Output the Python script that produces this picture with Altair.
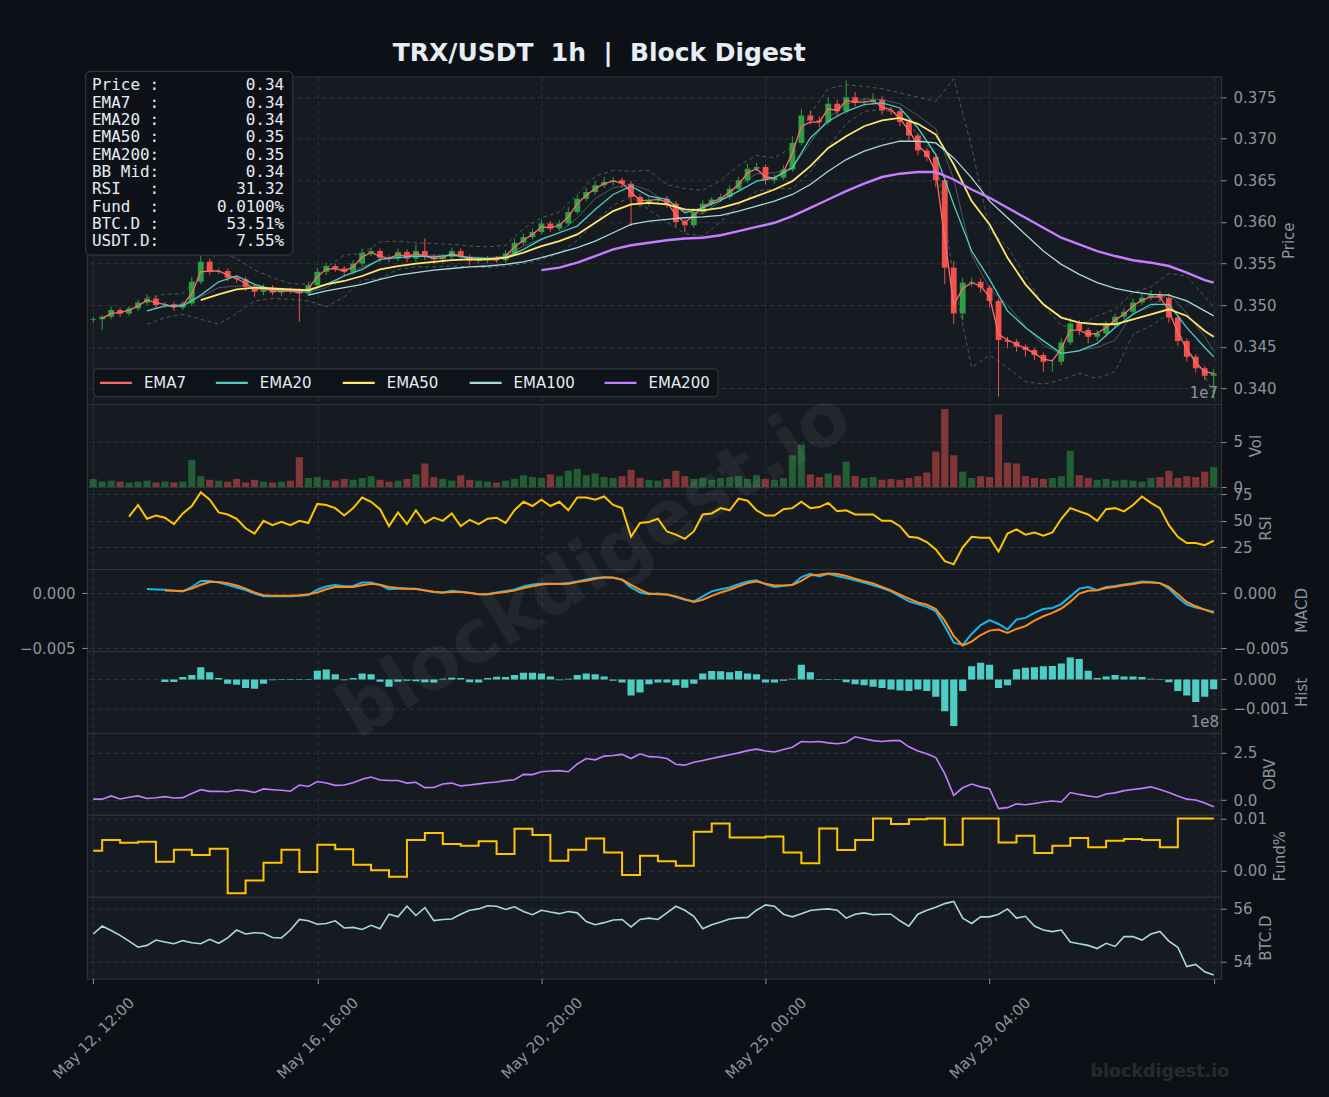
import altair as alt
import pandas as pd

# ---------------- data ----------------
TITLE = "TRX/USDT  1h  |  Block Digest"
WATERMARK = "blockdigest.io"
X_TICK_HOURS = [0, 100, 200, 300, 400, 500]
X_TICK_LABELS = ["May 12, 12:00", "May 16, 16:00", "May 20, 20:00", "May 25, 00:00", "May 29, 04:00", ""]

INFO_LABELS = ["Price", "EMA7", "EMA20", "EMA50", "EMA200", "BB Mid", "RSI", "Fund", "BTC.D", "USDT.D"]
INFO_VALUES = ["0.34", "0.34", "0.34", "0.35", "0.35", "0.34", "31.32", "0.0100%", "53.51%", "7.55%"]

SERIES_NAMES = ["EMA7", "EMA20", "EMA50", "EMA100", "EMA200"]
SERIES_COLORS = ["#ff6b6b", "#4ecdc4", "#ffe66d", "#a8dadc", "#c77dff"]

PRICE_TICKS = [0.340, 0.345, 0.350, 0.355, 0.360, 0.365, 0.370, 0.375]
VOL_TICKS = [0, 5]
RSI_TICKS = [25, 50, 75]
MACD_TICKS = [-0.005, 0.0]
HIST_TICKS = [-0.001, 0.0]
OBV_TICKS = [0.0, 2.5]
FUND_TICKS = [0.0, 0.01]
BTC_TICKS = [54, 56]

FIRST_OPEN = 0.3482
# 4-hour candles (close), wick lengths in 1e-4
CLOSE = [0.3483, 0.3486, 0.3494, 0.3490, 0.3496, 0.3503, 0.3508, 0.3500, 0.3501, 0.3497,
         0.3502, 0.3528, 0.3552, 0.3540, 0.3541, 0.3533, 0.3531, 0.3522, 0.3516, 0.3521,
         0.3515, 0.3518, 0.3517, 0.3514, 0.3524, 0.3540, 0.3547, 0.3544, 0.3540, 0.3550,
         0.3563, 0.3565, 0.3557, 0.3556, 0.3564, 0.3556, 0.3565, 0.3558, 0.3555, 0.3558,
         0.3565, 0.3558, 0.3553, 0.3554, 0.3556, 0.3554, 0.3562, 0.3575, 0.3582, 0.3588,
         0.3598, 0.3592, 0.3598, 0.3612, 0.3628, 0.3636, 0.3644, 0.3648, 0.3650, 0.3646,
         0.3630, 0.3622, 0.3626, 0.3628, 0.3622, 0.3600, 0.3596, 0.3612, 0.3622, 0.3627,
         0.3630, 0.3640, 0.3650, 0.3664, 0.3666, 0.3650, 0.3653, 0.3663, 0.3695, 0.3728,
         0.3722, 0.3720, 0.3742, 0.3733, 0.3750, 0.3743, 0.3744, 0.3747, 0.3734, 0.3733,
         0.3720, 0.3704, 0.3686, 0.3678, 0.3650, 0.3545, 0.3490, 0.3527, 0.3528, 0.3521,
         0.3505, 0.3458, 0.3456, 0.3450, 0.3446, 0.3440, 0.3432, 0.3432, 0.3455, 0.3478,
         0.3470, 0.3462, 0.3466, 0.3476, 0.3486, 0.3492, 0.3503, 0.3509, 0.3512, 0.3509,
         0.3485, 0.3457, 0.3438, 0.3424, 0.3415, 0.3418]
UP_WICK = [3, 2, 4, 3, 3, 4, 5, 3, 3, 3,
           3, 6, 8, 4, 3, 3, 3, 3, 3, 4,
           3, 3, 3, 3, 4, 5, 4, 3, 3, 4,
           5, 4, 3, 3, 4, 3, 8, 15, 3, 3,
           4, 3, 3, 3, 3, 3, 4, 5, 4, 4,
           5, 3, 4, 6, 5, 5, 5, 6, 4, 3,
           3, 3, 3, 3, 3, 3, 3, 5, 4, 3,
           4, 4, 4, 6, 5, 3, 4, 5, 8, 8,
           6, 5, 8, 5, 20, 6, 5, 8, 4, 4,
           3, 3, 3, 3, 3, 4, 8, 6, 5, 4,
           3, 3, 4, 3, 3, 3, 3, 3, 5, 6,
           4, 3, 4, 5, 4, 4, 5, 5, 6, 5,
           4, 3, 3, 3, 3, 5]
DN_WICK = [4, 13, 3, 4, 3, 3, 3, 4, 3, 4,
           3, 3, 3, 4, 3, 4, 4, 5, 6, 4,
           3, 4, 3, 34, 3, 3, 4, 4, 5, 3,
           3, 4, 5, 4, 3, 5, 4, 4, 6, 5,
           3, 4, 5, 3, 4, 3, 3, 3, 3, 3,
           3, 4, 3, 3, 3, 3, 3, 3, 4, 5,
           35, 4, 3, 3, 5, 6, 8, 3, 3, 3,
           3, 3, 3, 3, 3, 5, 4, 3, 3, 3,
           5, 6, 3, 5, 3, 4, 4, 3, 5, 4,
           5, 6, 6, 5, 8, 20, 13, 8, 5, 6,
           8, 68, 8, 6, 8, 6, 12, 12, 4, 3,
           6, 8, 5, 4, 4, 3, 4, 3, 3, 5,
           6, 6, 6, 5, 5, 27]
EMA7 = [None, 0.3484, 0.3490, 0.3491, 0.3494, 0.3499, 0.3506, 0.3503, 0.3501, 0.3498,
        0.3500, 0.3514, 0.3540, 0.3541, 0.3541, 0.3536, 0.3532, 0.3526, 0.3519, 0.3520,
        0.3517, 0.3517, 0.3517, 0.3515, 0.3520, 0.3534, 0.3543, 0.3544, 0.3541, 0.3546,
        0.3558, 0.3563, 0.3559, 0.3556, 0.3561, 0.3558, 0.3562, 0.3559, 0.3556, 0.3557,
        0.3562, 0.3559, 0.3555, 0.3554, 0.3555, 0.3554, 0.3559, 0.3570, 0.3578, 0.3585,
        0.3594, 0.3593, 0.3596, 0.3606, 0.3622, 0.3632, 0.3640, 0.3646, 0.3649, 0.3647,
        0.3636, 0.3626, 0.3626, 0.3627, 0.3624, 0.3608, 0.3599, 0.3608, 0.3618, 0.3624,
        0.3628, 0.3636, 0.3645, 0.3659, 0.3664, 0.3654, 0.3653, 0.3660, 0.3683, 0.3715,
        0.3720, 0.3720, 0.3736, 0.3734, 0.3746, 0.3744, 0.3744, 0.3746, 0.3738, 0.3735,
        0.3724, 0.3710, 0.3692, 0.3682, 0.3660, 0.3580, 0.3500, 0.3520, 0.3527, 0.3523,
        0.3510, 0.3465, 0.3458, 0.3453, 0.3448, 0.3442, 0.3435, 0.3433, 0.3448, 0.3470,
        0.3470, 0.3465, 0.3466, 0.3473, 0.3482, 0.3489, 0.3499, 0.3506, 0.3510, 0.3510,
        0.3493, 0.3467, 0.3447, 0.3431, 0.3420, 0.3418]
VOLUME = [0.9, 0.6, 0.7, 0.6, 0.5, 0.6, 0.7, 0.5, 0.6, 0.5,
          0.6, 3.0, 1.2, 0.8, 0.7, 0.6, 0.9, 0.5, 0.8, 0.6,
          0.5, 0.6, 0.7, 3.3, 1.0, 1.1, 0.8, 0.7, 0.9, 0.8,
          1.0, 1.2, 0.8, 0.6, 0.7, 0.9, 1.4, 2.6, 1.1, 0.9,
          0.7, 1.3, 0.8, 0.7, 0.6, 0.5, 0.7, 0.9, 1.3, 1.1,
          1.0, 1.4, 1.2, 1.8, 2.0, 1.3, 1.5, 1.1, 1.0, 1.2,
          1.9, 1.0, 0.8, 0.7, 0.9, 1.8, 1.2, 0.9, 1.0, 0.8,
          1.0, 1.1, 1.2, 0.9, 1.3, 0.9, 0.8, 1.0, 3.5, 4.7,
          1.4, 1.1, 1.5, 1.3, 2.8, 1.2, 1.0, 1.1, 0.8, 0.9,
          0.8, 1.0, 1.2, 1.6, 3.9, 8.6, 3.5, 1.7, 1.0, 1.2,
          1.1, 8.0, 2.7, 2.6, 1.2, 1.0, 0.9, 1.0, 1.2, 4.0,
          1.3, 1.0, 0.8, 0.9, 0.7, 0.8, 0.7, 0.6, 1.0, 1.1,
          1.8, 1.0, 1.2, 1.1, 1.7, 2.2]
RSI = [None, None, None, None, 54, 65, 52, 55, 53, 47,
       57, 64, 77, 70, 58, 56, 52, 43, 38, 50,
       46, 49, 46, 50, 48, 66, 65, 62, 55, 62,
       72, 68, 61, 45, 58, 47, 60, 48, 53, 50,
       57, 45, 51, 47, 52, 53, 48, 60, 68, 64,
       70, 64, 68, 60, 72, 72, 70, 73, 65, 62,
       35, 48, 49, 52, 40, 37, 33, 40, 56, 57,
       62, 60, 71, 69, 60, 55, 55, 61, 62, 68,
       62, 63, 67, 59, 60, 56, 56, 56, 50, 50,
       45, 35, 34, 30, 23, 12, 9, 25, 35, 34,
       34, 21, 38, 42, 37, 39, 36, 39, 52, 62,
       59, 56, 50, 61, 62, 59, 65, 73, 67, 62,
       46, 35, 29, 29, 27, 31.32]
MACD_E3 = [None, None, None, None, None, None, 0.36, 0.33, 0.30, 0.22,
           0.15, 0.55, 1.10, 1.10, 0.95, 0.75, 0.50, 0.28, -0.05, -0.30,
           -0.30, -0.30, -0.30, -0.25, -0.18, 0.30, 0.60, 0.72, 0.62, 0.65,
           0.95, 0.95, 0.72, 0.35, 0.40, 0.42, 0.38, 0.22, 0.10, 0.02,
           0.20, 0.12, 0.04, -0.10, -0.10, 0.06, 0.18, 0.32, 0.60, 0.78,
           0.84, 0.84, 0.84, 0.90, 1.05, 1.22, 1.36, 1.44, 1.38, 1.22,
           0.50, 0.05, -0.10, -0.05, -0.14, -0.35, -0.60, -0.75, -0.30, 0.15,
           0.35, 0.50, 0.80, 1.05, 1.15, 0.80, 0.55, 0.65, 0.75, 1.45,
           1.75, 1.50, 1.75, 1.55, 1.35, 1.15, 0.95, 0.70, 0.45, 0.15,
           -0.30, -0.75, -1.00, -1.25, -1.65, -3.00, -4.50, -4.70, -3.70, -2.90,
           -2.45, -2.80, -3.30, -2.40, -2.25, -1.80, -1.45, -1.35, -1.00, -0.30,
           0.40, 0.55, 0.25, 0.55, 0.65, 0.78, 0.90, 1.05, 1.00, 0.90,
           0.40, -0.40, -1.05, -1.30, -1.50, -1.70]
SIGNAL_E3 = [None, None, None, None, None, None, None, None, 0.24, 0.22,
             0.18, 0.40, 0.75, 1.00, 1.00, 0.90, 0.68, 0.40, 0.05, -0.20,
             -0.24, -0.24, -0.24, -0.20, -0.10, 0.05, 0.35, 0.55, 0.55, 0.55,
             0.70, 0.84, 0.75, 0.55, 0.45, 0.38, 0.36, 0.25, 0.12, 0.06,
             0.09, 0.09, 0.00, -0.10, -0.10, 0.00, 0.10, 0.22, 0.45, 0.62,
             0.78, 0.84, 0.82, 0.84, 1.00, 1.12, 1.30, 1.42, 1.40, 1.20,
             0.75, 0.30, -0.05, -0.10, -0.14, -0.30, -0.55, -0.80, -0.60, -0.25,
             0.05, 0.30, 0.60, 0.90, 1.05, 0.85, 0.68, 0.68, 0.72, 1.10,
             1.60, 1.65, 1.78, 1.72, 1.55, 1.30, 1.08, 0.88, 0.55, 0.25,
             -0.15, -0.50, -0.85, -1.05, -1.45, -2.50, -3.90, -4.75, -4.40, -3.80,
             -3.40, -3.30, -3.60, -3.25, -3.00, -2.50, -2.10, -1.80, -1.40, -0.80,
             -0.05, 0.20, 0.25, 0.45, 0.58, 0.70, 0.82, 0.95, 0.95, 0.90,
             0.55, -0.10, -0.80, -1.20, -1.50, -1.80]
HIST_E3 = [None, None, None, None, None, None, None, None, -0.09, -0.09,
           0.08, 0.15, 0.42, 0.25, 0.05, -0.15, -0.18, -0.30, -0.32, -0.15,
           -0.03, -0.02, -0.02, -0.02, -0.02, 0.30, 0.34, 0.18, -0.03, 0.05,
           0.20, 0.18, -0.08, -0.25, -0.08, -0.05, -0.06, -0.10, -0.11, 0.02,
           0.06, 0.05, -0.10, -0.11, 0.05, 0.09, 0.08, 0.15, 0.23, 0.23,
           0.20, 0.10, -0.03, 0.02, 0.15, 0.20, 0.18, 0.10, -0.05, -0.11,
           -0.55, -0.45, -0.17, -0.11, -0.11, -0.20, -0.29, -0.15, 0.20, 0.29,
           0.28, 0.25, 0.29, 0.20, 0.18, -0.11, -0.11, -0.05, 0.02, 0.50,
           0.25, -0.02, -0.02, -0.02, -0.10, -0.17, -0.20, -0.25, -0.30, -0.35,
           -0.38, -0.40, -0.35, -0.40, -0.60, -1.10, -1.60, -0.40, 0.45, 0.57,
           0.50, -0.30, -0.20, 0.35, 0.40, 0.42, 0.45, 0.46, 0.55, 0.75,
           0.70, 0.30, 0.05, 0.10, 0.15, 0.10, 0.10, 0.08, 0.02, -0.02,
           -0.10, -0.40, -0.55, -0.78, -0.60, -0.34]
OBV_E8 = [0.05, 0.05, 0.22, 0.06, 0.15, 0.22, 0.08, 0.12, 0.18, 0.11,
          0.13, 0.35, 0.55, 0.46, 0.47, 0.44, 0.53, 0.50, 0.40, 0.59,
          0.55, 0.52, 0.47, 0.80, 0.72, 0.98, 0.90, 0.78, 0.80, 0.92,
          1.10, 1.22, 1.06, 1.04, 1.04, 0.90, 0.94, 0.66, 0.67, 0.85,
          0.90, 0.75, 0.80, 0.86, 0.92, 0.96, 1.03, 1.08, 1.36, 1.35,
          1.50, 1.54, 1.56, 1.50, 1.91, 2.20, 2.13, 2.33, 2.36, 2.42,
          2.20, 2.45, 2.30, 2.28, 2.20, 1.90, 1.85, 2.00, 2.10, 2.20,
          2.30, 2.40, 2.50, 2.62, 2.70, 2.60, 2.55, 2.68, 2.80, 3.10,
          3.08, 3.10, 3.03, 2.98, 3.05, 3.35, 3.25, 3.15, 3.10, 3.15,
          3.15, 2.82, 2.60, 2.45, 2.25, 1.40, 0.25, 0.65, 0.85, 0.70,
          0.60, -0.45, -0.40, -0.20, -0.25, -0.18, -0.10, -0.05, -0.10, 0.40,
          0.30, 0.22, 0.15, 0.32, 0.38, 0.50, 0.56, 0.62, 0.70, 0.56,
          0.40, 0.22, 0.05, 0.00, -0.15, -0.35]
BTCD = [55.05, 55.35, 55.18, 55.00, 54.78, 54.55, 54.62, 54.82, 54.75, 54.68,
        54.80, 54.72, 54.68, 54.85, 54.70, 54.90, 55.20, 55.05, 55.10, 55.08,
        54.92, 54.90, 55.20, 55.60, 55.55, 55.42, 55.45, 55.55, 55.28, 55.30,
        55.22, 55.38, 55.25, 55.80, 55.70, 56.10, 55.75, 56.05, 55.56, 55.60,
        55.62, 55.80, 55.95, 56.00, 56.12, 56.10, 55.98, 56.08, 55.90, 55.78,
        55.95, 55.88, 55.82, 55.90, 55.85, 55.52, 55.40, 55.48, 55.58, 55.60,
        55.32, 55.60, 55.65, 55.60, 55.85, 56.10, 55.95, 55.72, 55.25, 55.40,
        55.50, 55.62, 55.66, 55.68, 55.95, 56.15, 56.10, 55.80, 55.70, 55.82,
        55.94, 55.98, 56.00, 55.95, 55.65, 55.80, 55.85, 55.78, 55.80, 55.80,
        55.55, 55.35, 55.80, 55.95, 56.06, 56.20, 56.28, 55.65, 55.45, 55.70,
        55.70, 55.80, 56.00, 55.65, 55.72, 55.35, 55.20, 55.14, 55.20, 54.75,
        54.68, 54.62, 54.50, 54.70, 54.58, 54.95, 54.95, 54.82, 55.05, 55.15,
        54.78, 54.55, 53.82, 53.90, 53.62, 53.50]

# 8-hour samples of the smooth overlays
EMA20 = [None, None, None, 0.3493, 0.3499, 0.3499, 0.3512, 0.3528, 0.3535, 0.3525,
         0.3519, 0.3518, 0.3517, 0.3525, 0.3535, 0.3543, 0.3555, 0.3557, 0.3559, 0.3558,
         0.3560, 0.3557, 0.3556, 0.3557, 0.3567, 0.3579, 0.3587, 0.3595, 0.3615, 0.3633,
         0.3643, 0.3631, 0.3627, 0.3611, 0.3617, 0.3626, 0.3637, 0.3649, 0.3653, 0.3665,
         0.3701, 0.3721, 0.3733, 0.3741, 0.3743, 0.3737, 0.3713, 0.3681, 0.3621, 0.3565,
         0.3531, 0.3493, 0.3473, 0.3457, 0.3442, 0.3445, 0.3454, 0.3473, 0.3489, 0.3501,
         0.3501, 0.3473, 0.3449, 0.3438]
EMA50 = [None, None, None, None, None, None, 0.3506, 0.3513, 0.3519, 0.3521,
         0.3520, 0.3519, 0.3518, 0.3525, 0.3529, 0.3535, 0.3543, 0.3547, 0.3550, 0.3552,
         0.3554, 0.3555, 0.3555, 0.3557, 0.3563, 0.3571, 0.3577, 0.3585, 0.3599, 0.3613,
         0.3621, 0.3623, 0.3621, 0.3615, 0.3614, 0.3617, 0.3623, 0.3631, 0.3639, 0.3649,
         0.3667, 0.3689, 0.3703, 0.3715, 0.3722, 0.3725, 0.3718, 0.3705, 0.3669, 0.3625,
         0.3597, 0.3557, 0.3525, 0.3501, 0.3485, 0.3479, 0.3477, 0.3477, 0.3483, 0.3489,
         0.3495, 0.3487, 0.3469, 0.3462]
EMA100 = [None, None, None, None, None, None, None, None, None, None,
          None, None, 0.3512, 0.3517, 0.3521, 0.3525, 0.3531, 0.3536, 0.3539, 0.3542,
          0.3544, 0.3546, 0.3547, 0.3549, 0.3552, 0.3557, 0.3563, 0.3569, 0.3577, 0.3587,
          0.3597, 0.3601, 0.3603, 0.3605, 0.3606, 0.3608, 0.3613, 0.3619, 0.3625, 0.3633,
          0.3645, 0.3661, 0.3675, 0.3685, 0.3692, 0.3697, 0.3697, 0.3695, 0.3677, 0.3653,
          0.3625, 0.3605, 0.3585, 0.3565, 0.3549, 0.3537, 0.3527, 0.3520, 0.3516, 0.3513,
          0.3512, 0.3505, 0.3493, 0.3487]
EMA200 = [None, None, None, None, None, None, None, None, None, None,
          None, None, None, None, None, None, None, None, None, None,
          None, None, None, None, None, 0.3542, 0.3545, 0.3551, 0.3559, 0.3567,
          0.3572, 0.3575, 0.3578, 0.3580, 0.3581, 0.3584, 0.3589, 0.3594, 0.3599, 0.3607,
          0.3617, 0.3627, 0.3637, 0.3646, 0.3654, 0.3658, 0.3660, 0.3660, 0.3651, 0.3639,
          0.3629, 0.3617, 0.3605, 0.3593, 0.3581, 0.3573, 0.3565, 0.3559, 0.3554, 0.3551,
          0.3547, 0.3539, 0.3530, 0.3527]
BB_UP = [None, None, None, 0.3509, 0.3513, 0.3514, 0.3537, 0.3565, 0.3556, 0.3542,
         0.3533, 0.3526, 0.3525, 0.3545, 0.3560, 0.3562, 0.3576, 0.3577, 0.3575, 0.3574,
         0.3573, 0.3571, 0.3570, 0.3572, 0.3592, 0.3605, 0.3612, 0.3633, 0.3655, 0.3662,
         0.3661, 0.3662, 0.3645, 0.3640, 0.3638, 0.3650, 0.3668, 0.3680, 0.3677, 0.3690,
         0.3730, 0.3760, 0.3765, 0.3763, 0.3760, 0.3755, 0.3750, 0.3745, 0.3772, 0.3690,
         0.3590, 0.3570, 0.3535, 0.3500, 0.3475, 0.3475, 0.3487, 0.3495, 0.3515, 0.3522,
         0.3538, 0.3535, 0.3510, 0.3498]
BB_MID = [None, None, None, 0.3493, 0.3499, 0.3501, 0.3510, 0.3521, 0.3523, 0.3523,
          0.3520, 0.3516, 0.3515, 0.3521, 0.3535, 0.3546, 0.3554, 0.3560, 0.3560, 0.3560,
          0.3560, 0.3558, 0.3557, 0.3559, 0.3571, 0.3580, 0.3587, 0.3605, 0.3628, 0.3641,
          0.3645, 0.3638, 0.3622, 0.3613, 0.3610, 0.3625, 0.3644, 0.3658, 0.3659, 0.3665,
          0.3695, 0.3725, 0.3741, 0.3748, 0.3747, 0.3742, 0.3728, 0.3712, 0.3651, 0.3560,
          0.3520, 0.3500, 0.3474, 0.3452, 0.3441, 0.3446, 0.3449, 0.3458, 0.3490, 0.3498,
          0.3514, 0.3490, 0.3462, 0.3445]
BB_LO = [None, None, None, 0.3477, 0.3485, 0.3489, 0.3483, 0.3477, 0.3490, 0.3505,
         0.3508, 0.3507, 0.3505, 0.3498, 0.3510, 0.3530, 0.3532, 0.3543, 0.3546, 0.3546,
         0.3547, 0.3546, 0.3545, 0.3547, 0.3550, 0.3555, 0.3562, 0.3578, 0.3600, 0.3620,
         0.3630, 0.3615, 0.3600, 0.3586, 0.3583, 0.3600, 0.3620, 0.3637, 0.3640, 0.3640,
         0.3660, 0.3690, 0.3718, 0.3733, 0.3735, 0.3730, 0.3705, 0.3680, 0.3530, 0.3425,
         0.3440, 0.3425, 0.3408, 0.3405, 0.3410, 0.3418, 0.3412, 0.3420, 0.3465, 0.3475,
         0.3490, 0.3450, 0.3415, 0.3393]
# funding rate (x 1e-3 %), changes every 8h
FUND_E3 = [3.82, 5.86, 5.35, 5.54, 1.72, 4.01, 2.99, 4.20, -4.33, -1.91,
           1.53, 4.01, -0.25, 4.97, 4.08, 1.15, 0.06, -1.15, 5.86, 7.20,
           5.10, 4.78, 5.61, 3.18, 8.03, 6.82, 1.91, 4.01, 6.18, 3.50,
           -0.83, 2.87, 1.78, 0.96, 7.45, 9.04, 6.37, 6.37, 6.56, 3.50,
           1.40, 8.09, 3.95, 5.86, 10.0, 8.92, 9.87, 10.0, 4.97, 10.0,
           10.0, 5.41, 6.69, 3.38, 4.78, 6.24, 4.46, 5.73, 6.05, 5.86,
           4.46, 10.0, 10.0, 10.0]

# time grids (hours since May 12, 12:00)
H4 = list(range(0, 501, 4))
H8 = list(range(0, 497, 8)) + [500]
HF = [0] + list(range(4, 500, 8)) + [500]

for arr in (CLOSE, UP_WICK, DN_WICK, EMA7, VOLUME, RSI, MACD_E3, SIGNAL_E3, HIST_E3, OBV_E8, BTCD):
    assert len(arr) == len(H4), len(arr)
for arr in (EMA20, EMA50, EMA100, EMA200, BB_UP, BB_MID, BB_LO):
    assert len(arr) == len(H8), len(arr)
assert len(FUND_E3) == len(HF)

# ---------------- styling ----------------
BG = "#0d1117"
PANEL = "#161b22"
GRID = "#30363d"
TXT = "#8b949e"
WHITE = "#e6edf3"
UP = "#2ea043"
DOWN = "#f0514d"
W = 1135
XDOM = [-2.8, 503.3]
PAGE_W, PAGE_H = 1329, 1097
ORIGIN_X, ORIGIN_Y = 86.3, 75


def nb(s):
    return s.replace(" ", "\u00a0")


def sc(v, k):
    return None if v is None else v * k


opens = [FIRST_OPEN] + CLOSE[:-1]
df4 = pd.DataFrame({"t": H4, "open": opens, "close": CLOSE})
df4["high"] = [max(o, c) + u * 1e-4 for o, c, u in zip(opens, CLOSE, UP_WICK)]
df4["low"] = [min(o, c) - d * 1e-4 for o, c, d in zip(opens, CLOSE, DN_WICK)]
df4["dir"] = ["up" if c >= o else "down" for o, c in zip(opens, CLOSE)]
df4["x0"] = df4["t"] - 1.3
df4["x1"] = df4["t"] + 1.3
df4["b0"] = df4["t"] - 1.6
df4["b1"] = df4["t"] + 1.6
df4["zero"] = 0.0
df4["ema7"] = EMA7
df4["vol"] = VOLUME
df4["rsi"] = RSI
df4["macd"] = [sc(v, 1e-3) for v in MACD_E3]
df4["signal"] = [sc(v, 1e-3) for v in SIGNAL_E3]
df4["hist"] = [sc(v, 1e-3) for v in HIST_E3]
df4["obv"] = OBV_E8
df4["btcd"] = BTCD

df8 = pd.DataFrame({"t": H8, "ema20": EMA20, "ema50": EMA50, "ema100": EMA100,
                    "ema200": EMA200, "bb_up": BB_UP, "bb_mid": BB_MID, "bb_lo": BB_LO})
dff = pd.DataFrame({"t": HF, "fund": [v * 1e-3 for v in FUND_E3]})
ONE = pd.DataFrame({"a": [0]})

XS = alt.Scale(domain=XDOM, nice=False, zero=False)
label_expr = ("[" + ",".join("'%s'" % s for s in X_TICK_LABELS) + "][indexof(["
              + ",".join(str(h) for h in X_TICK_HOURS) + "], datum.value)]")
AX_X_GRID = alt.Axis(values=X_TICK_HOURS, labels=False, ticks=False, domain=False,
                     grid=True, title=None)
AX_X_BOTTOM = alt.Axis(values=X_TICK_HOURS, labelExpr=label_expr, labelAngle=315,
                       labelAlign="center", labelBaseline="middle", labelPadding=54,
                       labelOverlap=False, labelFlush=False, ticks=True, tickSize=5,
                       domain=False, grid=True, title=None)


def xq(field, bottom=False):
    return alt.X(f"{field}:Q", scale=XS, axis=AX_X_BOTTOM if bottom else AX_X_GRID)


def yax(title, values, fmt):
    return alt.Axis(orient="right", values=values, format=fmt, title=title,
                    titleAngle=270, titleBaseline="top", titlePadding=6,
                    labelPadding=7, tickSize=5, grid=True)


def yq(field, dom, ax):
    return alt.Y(f"{field}:Q", scale=alt.Scale(domain=dom, nice=False, zero=False), axis=ax)


DIRC = alt.Color("dir:N", scale=alt.Scale(domain=["up", "down"], range=[UP, DOWN]), legend=None)


def txt(text, x, y, **kw):
    return alt.Chart(ONE).mark_text(text=text, **kw).encode(x=alt.value(x), y=alt.value(y))


# ---------------- price panel ----------------
P_DOM = [0.3381, 0.3775]
P_AX = yax("Price", PRICE_TICKS, ".3f")
price_layers = []
for col, dash in (("bb_up", True), ("bb_lo", True), ("bb_mid", False)):
    kw = dict(color=TXT, strokeWidth=0.9, opacity=0.55, clip=True)
    if dash:
        kw["strokeDash"] = [4, 3]
    price_layers.append(alt.Chart(df8).mark_line(**kw).encode(x=xq("t"), y=yq(col, P_DOM, P_AX)))
price_layers.append(alt.Chart(df4).mark_rule(strokeWidth=1, clip=True).encode(
    x=xq("t"), y=yq("low", P_DOM, P_AX), y2="high", color=DIRC))
price_layers.append(alt.Chart(df4).mark_bar(clip=True).encode(
    x=xq("x0"), x2="x1", y=yq("open", P_DOM, P_AX), y2="close", color=DIRC))
line_specs = [(df4, "ema7", 0, 1.3), (df8, "ema20", 1, 1.3), (df8, "ema50", 2, 1.8),
              (df8, "ema100", 3, 1.3), (df8, "ema200", 4, 2.4)]
for dfl, col, ci, wdt in line_specs:
    price_layers.append(alt.Chart(dfl).mark_line(color=SERIES_COLORS[ci], strokeWidth=wdt, clip=True)
                        .encode(x=xq("t"), y=yq(col, P_DOM, P_AX)))

# info box
info_lines = [nb(f"{lab:<6}:{val:>13}") for lab, val in zip(INFO_LABELS, INFO_VALUES)]
price_layers.append(alt.Chart(ONE).mark_rect(fill=BG, fillOpacity=0.9, stroke=GRID, strokeWidth=1.2,
                                             cornerRadius=5)
                    .encode(x=alt.value(-1.3), x2=alt.value(206), y=alt.value(-5), y2=alt.value(179)))
price_layers.append(alt.Chart(ONE).mark_text(align="left", baseline="top", font="DejaVu Sans Mono",
                                             fontSize=16, lineHeight=17.35, color=WHITE)
                    .encode(x=alt.value(5), y=alt.value(1.0), text=alt.value(info_lines)))
# legend
LEG_X = [13, 129, 256, 383, 518]
price_layers.append(alt.Chart(ONE).mark_rect(fill=BG, fillOpacity=0.85, stroke=GRID, strokeWidth=1.2,
                                             cornerRadius=4)
                    .encode(x=alt.value(6.7), x2=alt.value(631.5), y=alt.value(292.7), y2=alt.value(320.5)))
for name, color, lx in zip(SERIES_NAMES, SERIES_COLORS, LEG_X):
    price_layers.append(alt.Chart(ONE).mark_rule(color=color, strokeWidth=2.2)
                        .encode(x=alt.value(lx), x2=alt.value(lx + 32), y=alt.value(306.7)))
    price_layers.append(txt(name, lx + 44, 306.7, align="left", baseline="middle", fontSize=15, color=WHITE))
# title, offset label, page anchors (fix the chart to the full page size)
price_layers.append(txt(nb(TITLE), 512.7, -23, align="center", baseline="middle", fontSize=25,
                        fontWeight="bold", color=WHITE))
price_layers.append(txt("1e7", 1132, 316.5, align="right", baseline="middle", fontSize=15, color=TXT))
price_layers.append(txt(".", -ORIGIN_X, -ORIGIN_Y, align="left", baseline="top", fontSize=2, opacity=0))
price_layers.append(txt(".", PAGE_W - ORIGIN_X - 0.5, PAGE_H - ORIGIN_Y - 0.5, align="right",
                        baseline="bottom", fontSize=2, opacity=0))
price = alt.layer(*price_layers).properties(width=W, height=328)

# ---------------- volume ----------------
V_DOM = [0, 9.15]
V_AX = yax("Vol", VOL_TICKS, ".0f")
vol = alt.Chart(df4).mark_bar(opacity=0.5, clip=True).encode(
    x=xq("b0"), x2="b1", y=yq("vol", V_DOM, V_AX), y2="zero", color=DIRC
).properties(width=W, height=83)

# ---------------- RSI ----------------
R_DOM = [4.6, 81.9]
rsi = alt.Chart(df4).mark_line(color="#ffc400", strokeWidth=2, clip=True).encode(
    x=xq("t"), y=yq("rsi", R_DOM, yax("RSI", RSI_TICKS, ".0f"))
).properties(width=W, height=82)

# ---------------- MACD ----------------
M_DOM = [-0.00524, 0.00218]
M_AX_R = yax("MACD", MACD_TICKS, ".3f")
M_AX_L = alt.Axis(orient="left", values=MACD_TICKS, format=".3f", title=None, grid=False,
                  labelPadding=7, tickSize=5)
macd = alt.layer(
    alt.Chart(df4).mark_line(color="#15b7ec", strokeWidth=2, clip=True).encode(
        x=xq("t"), y=yq("macd", M_DOM, M_AX_L)),
    alt.Chart(df4).mark_line(color="#ff8c1a", strokeWidth=2, clip=True).encode(
        x=xq("t"), y=yq("signal", M_DOM, M_AX_R)),
).resolve_axis(y="independent").properties(width=W, height=82)

# ---------------- histogram ----------------
HI_DOM = [-0.00184, 0.00098]
hist = alt.layer(
    alt.Chart(df4).mark_bar(color="#4ecdc4", clip=True).encode(
        x=xq("b0"), x2="b1", y=yq("hist", HI_DOM, yax("Hist", HIST_TICKS, ".3f")), y2="zero"),
    txt("1e8", 1133, 70.8, align="right", baseline="middle", fontSize=15, color=TXT),
).properties(width=W, height=82)

# ---------------- OBV ----------------
O_DOM = [-0.78, 3.56]
obv = alt.Chart(df4).mark_line(color="#c77dff", strokeWidth=1.6, clip=True).encode(
    x=xq("t"), y=yq("obv", O_DOM, yax("OBV", OBV_TICKS, ".1f"))
).properties(width=W, height=82)

# ---------------- funding ----------------
F_DOM = [-0.005, 0.0107]
fund = alt.Chart(dff).mark_line(color="#ffc400", strokeWidth=2, interpolate="step-after", clip=True).encode(
    x=xq("t"), y=yq("fund", F_DOM, yax("Fund%", FUND_TICKS, ".2f"))
).properties(width=W, height=82)

# ---------------- BTC dominance ----------------
B_DOM = [53.36, 56.46]
btc = alt.layer(
    alt.Chart(df4).mark_line(color="#a8dadc", strokeWidth=1.6, clip=True).encode(
        x=xq("t", bottom=True), y=yq("btcd", B_DOM, yax("BTC.D", BTC_TICKS, ".0f"))),
    txt(WATERMARK, 508.7, -331, align="center", baseline="middle", fontSize=74, fontWeight="bold",
        color="#ffffff", opacity=0.05, angle=328),
    txt(WATERMARK, 1073.7, 175, align="center", baseline="middle", fontSize=17.5, fontWeight="bold",
        color="#ffffff", opacity=0.1),
).properties(width=W, height=82)

chart = alt.vconcat(price, vol, rsi, macd, hist, obv, fund, btc, spacing=0, bounds="flush").properties(
    padding=0, background=BG
).configure(font="DejaVu Sans").configure_view(
    fill=PANEL, stroke=GRID, strokeWidth=1
).configure_axis(
    gridColor=GRID, gridDash=[5, 3], gridWidth=0.9, domain=False, labelColor=TXT, tickColor=TXT,
    labelFontSize=15, titleFontSize=15, titleColor=TXT, titleFontWeight="normal",
    labelFont="DejaVu Sans", titleFont="DejaVu Sans"
)

chart.save("out.html", embed_options={"renderer": "svg", "actions": False})
